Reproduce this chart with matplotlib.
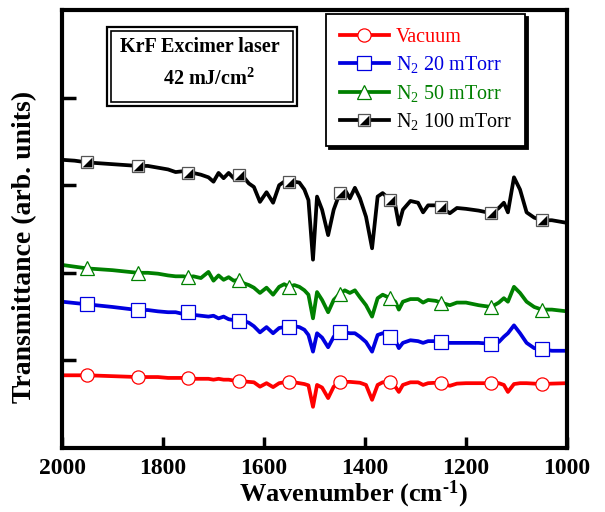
import numpy as np
import matplotlib
matplotlib.use('Agg')
import matplotlib.pyplot as plt
from matplotlib.path import Path
from matplotlib.patches import Rectangle

plt.rcParams['font.family'] = ['Liberation Serif', 'DejaVu Serif']
plt.rcParams['mathtext.fontset'] = 'custom'
plt.rcParams['mathtext.rm'] = 'Liberation Serif'
plt.rcParams['mathtext.bf'] = 'Liberation Serif:bold'
plt.rcParams['mathtext.it'] = 'Liberation Serif:italic'

# ---------------- data ----------------
wavenumber = [2000, 1975, 1950, 1900, 1850, 1830, 1810, 1790, 1775, 1760,
              1750, 1740, 1725, 1710, 1700, 1690, 1680, 1670, 1660, 1650,
              1640, 1630, 1620, 1608, 1595, 1582, 1570, 1560, 1550, 1540,
              1530, 1520, 1512, 1503, 1495, 1485, 1473, 1462, 1450, 1440,
              1430, 1420, 1410, 1398, 1386, 1375, 1365, 1350, 1340, 1333,
              1325, 1310, 1295, 1285, 1275, 1260, 1250, 1232, 1218, 1200,
              1175, 1150, 1135, 1125, 1117, 1105, 1093, 1080, 1065, 1050,
              1030, 1000]

vacuum = [0.83, 0.83, 0.83, 0.82, 0.81, 0.81, 0.81, 0.80, 0.80, 0.80,
          0.80, 0.79, 0.79, 0.79, 0.78, 0.79, 0.78, 0.78, 0.77, 0.765,
          0.76, 0.755, 0.75, 0.70, 0.74, 0.695, 0.74, 0.75, 0.755, 0.75,
          0.74, 0.73, 0.715, 0.47, 0.72, 0.69, 0.57, 0.70, 0.75, 0.755,
          0.755, 0.75, 0.745, 0.72, 0.55, 0.72, 0.75, 0.75, 0.70, 0.64,
          0.72, 0.75, 0.75, 0.72, 0.74, 0.745, 0.74, 0.71, 0.735, 0.74,
          0.74, 0.74, 0.74, 0.72, 0.64, 0.73, 0.74, 0.74, 0.735, 0.73,
          0.735, 0.74]

n2_20 = [1.67, 1.655, 1.64, 1.61, 1.575, 1.575, 1.56, 1.55, 1.55, 1.53,
         1.55, 1.52, 1.51, 1.50, 1.51, 1.48, 1.50, 1.47, 1.46, 1.45,
         1.45, 1.43, 1.39, 1.32, 1.38, 1.31, 1.37, 1.38, 1.38, 1.39,
         1.38, 1.35, 1.29, 1.10, 1.31, 1.26, 1.15, 1.27, 1.32, 1.32,
         1.31, 1.31, 1.27, 1.21, 1.10, 1.29, 1.31, 1.27, 1.23, 1.14,
         1.20, 1.23, 1.22, 1.20, 1.22, 1.22, 1.21, 1.20, 1.20, 1.20,
         1.20, 1.19, 1.21, 1.27, 1.31, 1.40, 1.31, 1.20, 1.14, 1.13,
         1.11, 1.11]

n2_50 = [2.09, 2.07, 2.05, 2.03, 2.00, 2.00, 1.99, 1.97, 1.96, 1.96,
         1.95, 1.96, 1.94, 2.01, 1.91, 1.97, 1.92, 1.95, 1.91, 1.92,
         1.88, 1.86, 1.83, 1.77, 1.83, 1.75, 1.84, 1.87, 1.84, 1.86,
         1.84, 1.80, 1.75, 1.48, 1.78, 1.69, 1.55, 1.69, 1.76, 1.80,
         1.77, 1.80, 1.72, 1.63, 1.50, 1.71, 1.75, 1.71, 1.67, 1.58,
         1.67, 1.70, 1.70, 1.66, 1.69, 1.68, 1.66, 1.63, 1.66, 1.66,
         1.63, 1.61, 1.66, 1.71, 1.67, 1.84, 1.77, 1.67, 1.61, 1.58,
         1.58, 1.56]

n2_100 = [3.29, 3.28, 3.26, 3.24, 3.22, 3.22, 3.20, 3.18, 3.15, 3.16,
          3.14, 3.14, 3.12, 3.09, 3.04, 3.14, 3.08, 3.14, 3.08, 3.12,
          3.09, 3.02, 2.98, 2.81, 2.92, 2.80, 3.00, 3.04, 3.04, 3.04,
          3.03, 2.95, 2.83, 2.15, 2.87, 2.72, 2.43, 2.72, 2.91, 2.95,
          2.85, 2.97, 2.85, 2.64, 2.28, 2.87, 2.91, 2.83, 2.77, 2.55,
          2.72, 2.82, 2.80, 2.69, 2.77, 2.77, 2.75, 2.68, 2.74, 2.73,
          2.71, 2.68, 2.74, 2.80, 2.69, 3.09, 2.95, 2.69, 2.63, 2.60,
          2.60, 2.57]

marker_positions = [1950, 1850, 1750, 1650, 1550, 1450, 1350, 1250, 1150, 1050]
labels = ['Vacuum', 'N$_2$ 20 mTorr', 'N$_2$ 50 mTorr', 'N$_2$ 100 mTorr']
x_ticks = [2000, 1800, 1600, 1400, 1200, 1000]

# ---------------- figure ----------------
fig = plt.figure(figsize=(6.05, 5.12), dpi=100)
ax = fig.add_axes([62/605, 64/512, 505/605, 438/512])

wn = np.array(wavenumber)
mk = list(np.where(np.isin(wn, marker_positions))[0])

lw = 2.7
ms = 9.5
l_red, = ax.plot(wn, vacuum, color='#ff0000', lw=lw, marker='o', ms=ms,
                 mfc='white', mec='#ff0000', mew=0.9, markevery=mk)
l_blue, = ax.plot(wn, n2_20, color='#0000e0', lw=lw, marker='s', ms=ms,
                  mfc='white', mec='#0000e0', mew=0.9, markevery=mk)
l_green, = ax.plot(wn, n2_50, color='#008000', lw=lw, marker='^', ms=ms + 1,
                   mfc='white', mec='#008000', mew=0.9, markevery=mk)
l_black, = ax.plot(wn, n2_100, color='black', lw=lw, marker='s', ms=ms - 1,
                   mfc='white', mec='#555555', mew=0.9, markevery=mk)
tri = Path([(-1, -1), (1, -1), (1, 1), (-1, -1)])
l_black2, = ax.plot(wn, n2_100, ls='none', marker=tri, ms=ms - 2.5,
                    mfc='black', mec='black', mew=0, markevery=mk)

ax.set_xlim(2000, 1000)
ax.set_ylim(0, 5)
ax.set_xticks(x_ticks)
ax.set_yticks([1, 2, 3, 4])
ax.set_yticklabels([])
ax.tick_params(axis='x', direction='in', length=8, width=2.5, labelsize=17,
               pad=7, top=False)
ax.tick_params(axis='y', direction='in', length=10, width=2.5, right=False)
for t in ax.get_xticklabels():
    t.set_fontweight('bold')
for s in ax.spines.values():
    s.set_linewidth(3)

ax.set_xlabel('Wavenumber (cm$^{\\mathbf{\u2010}\\mathbf{1}}$)', fontsize=19,
              fontweight='bold')
ax.xaxis.set_label_coords(0.576, -0.071)
ax.set_ylabel('Transmittance (arb. units)', fontsize=20, fontweight='bold')
ax.yaxis.set_label_coords(-0.050, 0.459)

# legend
leg = ax.legend([l_red, l_blue, l_green, (l_black, l_black2)], labels,
                loc='upper left', bbox_to_anchor=(0.523, 0.991),
                borderaxespad=0, fontsize=14.5, numpoints=1,
                handlelength=2.4, handletextpad=0.35, borderpad=0.7,
                labelspacing=0.36, fancybox=False, framealpha=1,
                edgecolor='black',
                shadow={'color': 'black', 'alpha': 1})
leg.get_frame().set_linewidth(1.3)
for txt, c in zip(leg.get_texts(), ['#ff0000', '#0000e0', '#008000', 'black']):
    txt.set_color(c)

# annotation box with double border
x0, y0, x1, y1 = (107 - 62) / 505, (448 - 106) / 438, (297 - 62) / 505, (448 - 27) / 438
ax.add_patch(Rectangle((x0, y0), x1 - x0, y1 - y0, transform=ax.transAxes,
                       fill=False, ec='black', lw=1.6, zorder=5))
dx, dy = 4 / 505, 4 / 438
ax.add_patch(Rectangle((x0 + dx, y0 + dy), x1 - x0 - 2 * dx, y1 - y0 - 2 * dy,
                       transform=ax.transAxes, fill=False, ec='black', lw=1.2,
                       zorder=5))
ax.text((200 - 62) / 505, (448 - 47) / 438, 'KrF Excimer laser',
        transform=ax.transAxes, ha='center', va='center', fontsize=14.5,
        fontweight='bold')
ax.text((209 - 62) / 505, (448 - 79) / 438, r'42 mJ/cm$^{\mathbf{2}}$',
        transform=ax.transAxes, ha='center', va='center', fontsize=14.5,
        fontweight='bold')

fig.savefig('out.png', dpi=100)
